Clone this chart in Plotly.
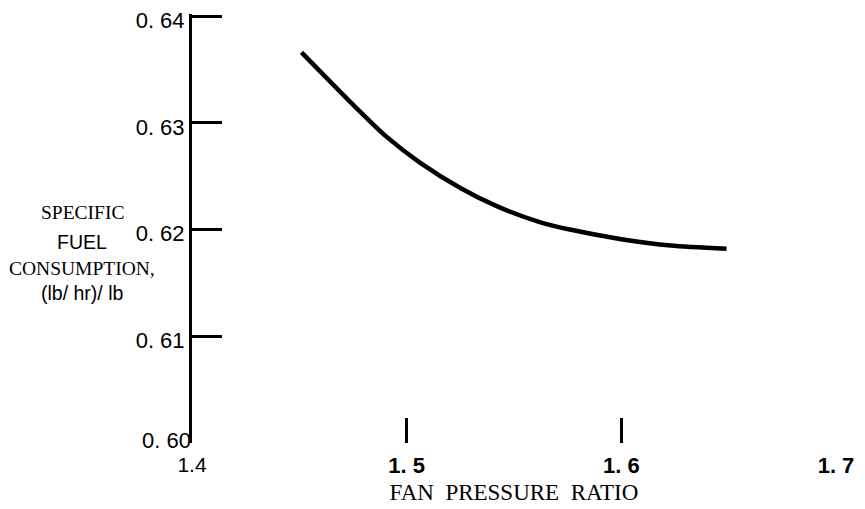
import plotly.graph_objects as go

# Data
fpr = [1.451, 1.475, 1.490, 1.506, 1.525, 1.543, 1.562, 1.576, 1.600, 1.623, 1.649]
sfc = [0.6366, 0.6317, 0.6288, 0.6263, 0.6239, 0.6221, 0.6207, 0.6200, 0.6191, 0.6185, 0.6182]

x_tickvals = [1.5, 1.6, 1.7]
x_ticktext = ["1. 5", "1. 6", "1. 7"]
x_origin_val = [1.4]
x_origin_text = ["1.4"]
y_tickvals = [0.61, 0.62, 0.63, 0.64]
y_ticktext = ["0. 61", "0. 62", "0. 63", "0. 64"]
y_origin_val = [0.60]
y_origin_text = ["0. 60"]
y_title_lines = ["SPECIFIC", "FUEL", "CONSUMPTION,", "(lb/ hr)/ lb"]
x_title = "FAN\u2002PRESSURE\u2002RATIO"

Y_RANGE = [0.60, 0.6402]

fig = go.Figure()
fig.add_trace(go.Scatter(x=fpr, y=sfc, mode="lines",
                         line=dict(color="black", width=4.5, shape="spline", smoothing=0.7),
                         showlegend=False, hoverinfo="skip"))
# invisible trace for secondary axes
fig.add_trace(go.Scatter(x=[1.4], y=[0.60], mode="markers", marker=dict(opacity=0),
                         xaxis="x2", yaxis="y2", showlegend=False, hoverinfo="skip"))

serif = "Liberation Serif, DejaVu Serif, serif"
sans = "Liberation Sans, DejaVu Sans, sans-serif"

# page body adds an 8px offset; figure sized to fit inside the window
fig.update_layout(
    width=857, height=501,
    margin=dict(l=184, r=29, t=6, b=66, autoexpand=False),
    paper_bgcolor="white", plot_bgcolor="white",
    xaxis=dict(range=[1.4, 1.7], tickvals=x_tickvals, ticktext=x_ticktext,
               ticks="inside", ticklen=25, tickwidth=2.5, tickcolor="black",
               showline=False, showgrid=False, zeroline=False, automargin=False,
               ticklabelstandoff=7, ticklabeloverflow="allow",
               tickfont=dict(family=sans, size=22, color="black", weight="bold"),
               title=dict(text=x_title, font=dict(family=serif, size=23, color="black"), standoff=6)),
    yaxis=dict(range=Y_RANGE, tickvals=y_tickvals, ticktext=y_ticktext,
               ticks="inside", ticklen=30, tickwidth=2.5, tickcolor="black",
               showline=True, linewidth=3, linecolor="black", automargin=False,
               showgrid=False, zeroline=False, ticklabelshift=4, ticklabeloverflow="allow",
               tickfont=dict(family=sans, size=22, color="black")),
    xaxis2=dict(range=[1.4, 1.7], overlaying="x", tickvals=x_origin_val, ticktext=x_origin_text,
                ticks="", showline=False, showgrid=False, zeroline=False, side="bottom",
                automargin=False, ticklabelstandoff=7, ticklabeloverflow="allow",
                tickfont=dict(family=sans, size=21, color="black")),
    yaxis2=dict(range=Y_RANGE, overlaying="y", tickvals=y_origin_val, ticktext=y_origin_text,
                ticks="", showline=False, showgrid=False, zeroline=False, side="left",
                automargin=False, ticklabelshift=-3, ticklabeloverflow="allow",
                tickfont=dict(family=sans, size=22, color="black")),
)

line_fonts = [serif, sans, serif, sans]
line_y = [213, 242, 268, 293]
for txt, fnt, py in zip(y_title_lines, line_fonts, line_y):
    fig.add_annotation(text=txt, xref="paper", yref="paper",
                       x=(82 - 192) / 644, y=1 - (py - 14) / 429,
                       xanchor="center", yanchor="middle", showarrow=False,
                       font=dict(family=fnt, size=19.5, color="black"))

fig.write_html("out.html")
